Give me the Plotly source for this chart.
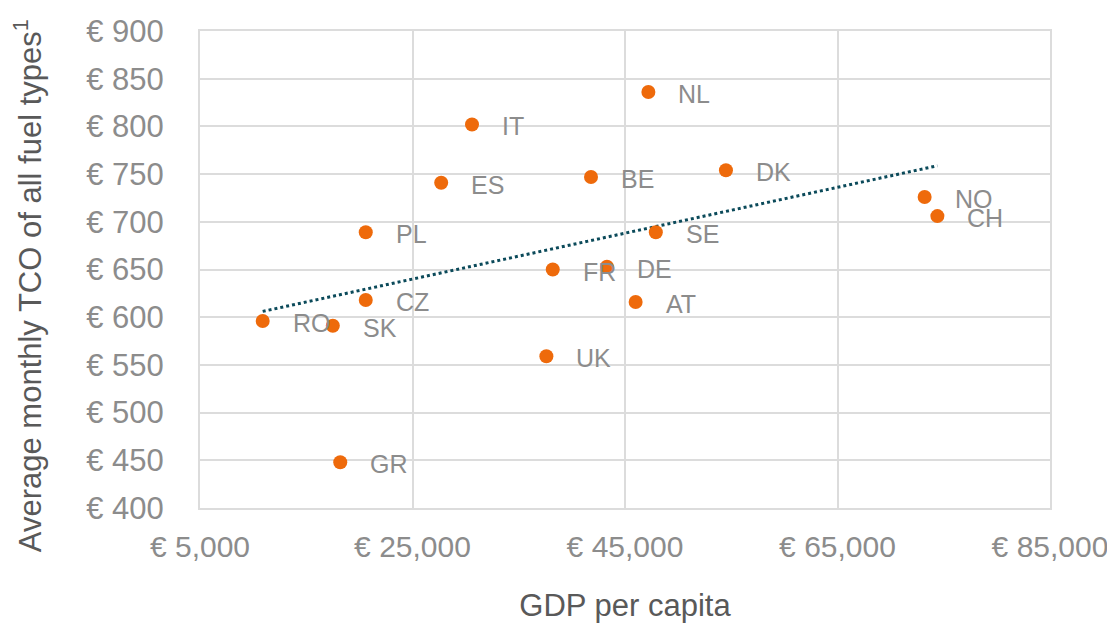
import numpy as np
import plotly.graph_objects as go

countries = ["NL", "IT", "ES", "BE", "DK", "NO", "CH", "PL", "SE", "FR", "DE", "CZ", "AT", "RO", "SK", "UK", "GR"]
gdp = [47200, 30600, 27700, 41800, 54500, 73200, 74400, 20600, 47900, 38200, 43300, 20600, 46000, 10900, 17500, 37600, 18200]
tco = [836, 802, 741, 747, 754, 726, 706, 689, 689, 650, 653, 618, 616, 596, 591, 559, 448]

x_ticks = [5000, 25000, 45000, 65000, 85000]
y_ticks = [400, 450, 500, 550, 600, 650, 700, 750, 800, 850, 900]
x_ticktext = ["€ {:,}".format(v) for v in x_ticks]
y_ticktext = ["€ {}".format(v) for v in y_ticks]

FONT = "Liberation Sans, Arial, sans-serif"
ORANGE = "#EE6A0B"
TEAL = "#0B4A5A"
TICK_GRAY = "#8C8C8C"
TITLE_GRAY = "#595959"
GRID = "#DCDCDC"

# linear trendline (least squares) across data range
coef = np.polyfit(gdp, tco, 1)
tx = np.array([min(gdp), max(gdp)])
ty = np.polyval(coef, tx)

fig = go.Figure()
fig.add_trace(go.Scatter(x=tx, y=ty, mode="lines",
                         line=dict(color=TEAL, width=3, dash="dot"),
                         hoverinfo="skip", showlegend=False))
fig.add_trace(go.Scatter(x=gdp, y=tco, mode="markers",
                         marker=dict(color=ORANGE, size=14),
                         text=countries, showlegend=False))

for c, gx, ty_ in zip(countries, gdp, tco):
    fig.add_annotation(x=gx, y=ty_, text=c, showarrow=False,
                       xanchor="left", yanchor="middle", xshift=28, yshift=-2,
                       font=dict(family=FONT, size=25, color=TICK_GRAY))

# y-axis title placed as a rotated annotation so it sits slightly below centre, as in the reference
fig.add_annotation(x=0, y=0.465, xref="paper", yref="paper",
                   text="Average monthly TCO of all fuel types<sup>1</sup>",
                   textangle=-90, showarrow=False, xanchor="center", yanchor="middle",
                   xshift=-172, font=dict(family=FONT, size=31, color=TITLE_GRAY))

fig.update_xaxes(range=[5000, 85000], tickmode="array", tickvals=x_ticks, ticktext=x_ticktext,
                 showgrid=True, gridcolor=GRID, gridwidth=1.5,
                 showline=True, linecolor=GRID, linewidth=2, mirror=True,
                 zeroline=False, ticks="", ticklabelstandoff=11, automargin=False,
                 tickfont=dict(family=FONT, size=30, color=TICK_GRAY),
                 title=dict(text="GDP per capita", standoff=32,
                            font=dict(family=FONT, size=31, color=TITLE_GRAY)))
fig.update_yaxes(range=[400, 900], tickmode="array", tickvals=y_ticks, ticktext=y_ticktext,
                 showgrid=True, gridcolor=GRID, gridwidth=1.5,
                 showline=True, linecolor=GRID, linewidth=2, mirror=True,
                 zeroline=False, ticks="", ticklabelstandoff=28, automargin=False,
                 tickfont=dict(family=FONT, size=31, color=TICK_GRAY))

# page body has an 8px margin, so the figure is sized to fit inside the window
fig.update_layout(width=1107, height=618,
                  margin=dict(l=192, r=65, t=23, b=118),
                  plot_bgcolor="white", paper_bgcolor="white",
                  font=dict(family=FONT))

fig.write_html("out.html")
